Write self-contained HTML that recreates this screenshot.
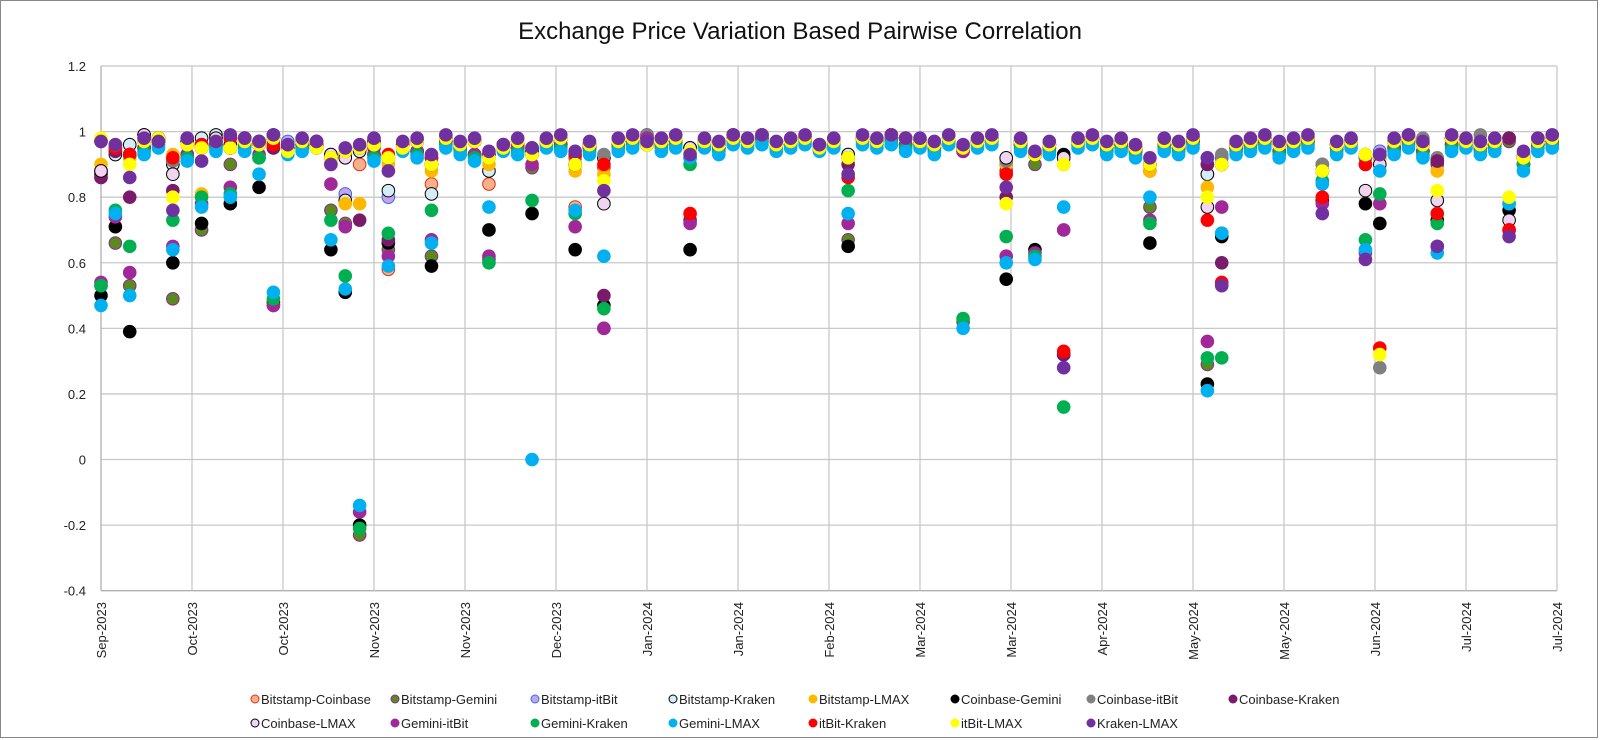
<!DOCTYPE html>
<html><head><meta charset="utf-8"><style>
html,body{margin:0;padding:0;background:#fff;}
svg{display:block;font-family:"Liberation Sans",sans-serif;}
</style></head><body>
<svg id="chart" width="1600" height="740" viewBox="0 0 1600 740">
<rect x="0.5" y="0.5" width="1597" height="737" fill="#fff" stroke="#888"/>
<text x="800" y="39" text-anchor="middle" font-size="24" fill="#111">Exchange Price Variation Based Pairwise Correlation</text>
<g id="grid"></g><g id="marks"></g><g id="legend"></g>
</svg>
<script>
const yTicks=[1.2,1,0.8,0.6,0.4,0.2,0,-0.2,-0.4];
const yTickLabels=["1.2","1","0.8","0.6","0.4","0.2","0","-0.2","-0.4"];
const xTickDays=[0,19,38,57,76,95,114,133,152,171,190,209,228,247,266,285,304];
const xTickLabels=["Sep-2023","Oct-2023","Oct-2023","Nov-2023","Nov-2023","Dec-2023","Jan-2024","Jan-2024","Feb-2024","Mar-2024","Mar-2024","Apr-2024","May-2024","May-2024","Jun-2024","Jul-2024","Jul-2024"];
const days=[0,3,6,9,12,15,18,21,24,27,30,33,36,39,42,45,48,51,54,57,60,63,66,69,72,75,78,81,84,87,90,93,96,99,102,105,108,111,114,117,120,123,126,129,132,135,138,141,144,147,150,153,156,159,162,165,168,171,174,177,180,183,186,189,192,195,198,201,204,207,210,213,216,219,222,225,228,231,234,237,240,243,246,249,252,255,258,261,264,267,270,273,276,279,282,285,288,291,294,297,300,303];
const seriesNames=["Bitstamp-Coinbase","Bitstamp-Gemini","Bitstamp-itBit","Bitstamp-Kraken","Bitstamp-LMAX","Coinbase-Gemini","Coinbase-itBit","Coinbase-Kraken","Coinbase-LMAX","Gemini-itBit","Gemini-Kraken","Gemini-LMAX","itBit-Kraken","itBit-LMAX","Kraken-LMAX"];
const s0=[.86,.95,.93,.97,.98,.9,.97,.96,.98,.95,.97,.96,.98,.94,.97,.95,.9,.93,.9,.96,.58,.95,.97,.84,.98,.96,.97,.84,.95,.96,.93,.97,.98,.77,.96,.89,.97,.98,.96,.97,.98,.95,.97,.96,.98,.97,.99,.96,.97,.98,.95,.97,.93,.98,.97,.99,.98,.97,.96,.98,.95,.97,.98,.9,.97,.93,.96,.9,.97,.98,.96,.97,.95,.88,.97,.96,.98,.87,.92,.96,.97,.98,.96,.97,.98,.88,.96,.97,.93,.94,.97,.98,.96,.91,.98,.97,.96,.97,.98,.92,.97,.98];
const s1=[.53,.66,.53,.95,.97,.49,.93,.70,.96,.9,.97,.92,.47,.96,.95,.97,.76,.72,-.23,.95,.64,.96,.94,.62,.97,.95,.93,.61,.96,.95,.89,.97,.96,.9,.95,.40,.96,.97,.98,.96,.97,.92,.97,.95,.98,.97,.98,.96,.97,.98,.96,.97,.67,.98,.97,.98,.96,.97,.95,.98,.42,.97,.98,.88,.96,.9,.95,.32,.97,.98,.95,.96,.94,.77,.96,.95,.97,.29,.9,.95,.96,.97,.94,.96,.97,.9,.95,.97,.92,.93,.95,.97,.94,.9,.96,.97,.95,.96,.97,.9,.96,.97];
const s2=[.88,.94,.92,.97,.98,.91,.96,.95,.97,.95,.98,.96,.95,.97,.96,.95,.93,.81,.95,.97,.80,.96,.97,.92,.98,.96,.97,.93,.95,.97,.95,.97,.98,.9,.96,.92,.97,.98,.96,.97,.98,.95,.97,.96,.98,.97,.99,.96,.97,.98,.95,.97,.92,.98,.97,.99,.98,.97,.96,.98,.95,.97,.98,.9,.97,.93,.96,.92,.97,.98,.96,.97,.95,.9,.97,.96,.98,.9,.92,.96,.97,.98,.96,.97,.98,.9,.96,.97,.92,.94,.97,.98,.96,.91,.98,.97,.96,.97,.98,.93,.97,.98];
const s3=[.87,.93,.96,.99,.98,.9,.97,.98,.99,.96,.98,.97,.99,.95,.97,.96,.92,.79,.94,.97,.82,.95,.97,.81,.98,.96,.97,.88,.95,.97,.94,.97,.98,.9,.96,.92,.97,.98,.99,.97,.98,.95,.97,.96,.99,.97,.99,.96,.97,.98,.95,.97,.93,.98,.97,.99,.98,.97,.96,.98,.95,.97,.98,.9,.97,.93,.96,.32,.97,.98,.96,.97,.95,.9,.97,.96,.98,.87,.69,.96,.97,.98,.96,.97,.98,.88,.96,.97,.93,.92,.97,.98,.96,.91,.98,.97,.96,.97,.98,.92,.97,.98];
const s4=[.9,.95,.92,.97,.98,.93,.96,.81,.97,.95,.97,.96,.98,.94,.97,.95,.92,.78,.78,.96,.9,.95,.97,.88,.98,.96,.97,.9,.95,.97,.93,.97,.98,.88,.96,.87,.97,.98,.96,.97,.98,.94,.97,.96,.98,.97,.99,.96,.97,.98,.95,.97,.92,.98,.97,.99,.98,.97,.96,.98,.95,.97,.98,.9,.97,.93,.96,.9,.97,.98,.96,.97,.95,.88,.97,.96,.98,.83,.9,.96,.97,.98,.96,.97,.98,.88,.96,.97,.93,.92,.97,.98,.96,.88,.98,.97,.96,.97,.98,.92,.97,.98];
const s5=[.50,.71,.39,.95,.97,.60,.93,.72,.96,.78,.96,.83,.48,.95,.96,.97,.64,.51,-.2,.93,.66,.96,.94,.59,.97,.95,.93,.70,.96,.95,.75,.97,.96,.64,.95,.47,.96,.97,.98,.96,.97,.64,.97,.95,.98,.97,.98,.96,.97,.98,.96,.97,.65,.98,.97,.98,.96,.97,.95,.98,.94,.97,.98,.55,.96,.64,.95,.93,.97,.98,.95,.96,.94,.66,.96,.95,.97,.23,.68,.95,.96,.97,.94,.96,.97,.79,.95,.97,.78,.72,.95,.97,.94,.73,.96,.97,.95,.96,.76,.9,.96,.97];
const s6=[.88,.95,.93,.97,.98,.91,.96,.95,.97,.95,.98,.96,.97,.94,.97,.96,.92,.94,.95,.97,.92,.96,.97,.92,.98,.96,.97,.93,.95,.97,.95,.97,.98,.92,.96,.93,.97,.98,.99,.98,.98,.95,.97,.96,.98,.97,.99,.96,.97,.98,.95,.97,.92,.98,.97,.99,.98,.97,.96,.98,.95,.97,.98,.91,.97,.93,.96,.92,.97,.98,.96,.97,.95,.9,.97,.96,.98,.92,.93,.96,.97,.98,.96,.97,.98,.9,.96,.97,.93,.28,.97,.99,.98,.92,.98,.97,.99,.97,.98,.93,.98,.99];
const s7=[.86,.94,.80,.97,.98,.82,.96,.95,.97,.95,.97,.96,.95,.94,.97,.95,.92,.94,.73,.96,.67,.95,.97,.9,.98,.96,.97,.92,.95,.97,.93,.97,.98,.9,.96,.50,.97,.98,.96,.97,.98,.73,.97,.96,.98,.97,.99,.96,.97,.98,.95,.97,.9,.98,.97,.99,.98,.97,.96,.98,.95,.97,.98,.80,.97,.93,.96,.32,.97,.98,.96,.97,.95,.9,.97,.96,.98,.9,.60,.96,.97,.98,.96,.97,.98,.88,.96,.97,.9,.93,.97,.98,.96,.91,.98,.97,.96,.97,.98,.92,.97,.98];
const s8=[.88,.96,.93,.99,.98,.87,.97,.96,.98,.95,.98,.96,.98,.95,.97,.96,.93,.92,.95,.97,.92,.96,.97,.9,.98,.96,.97,.93,.95,.97,.94,.97,.98,.9,.96,.78,.97,.98,.96,.97,.98,.95,.97,.96,.98,.97,.99,.96,.97,.98,.95,.97,.92,.98,.97,.99,.98,.97,.96,.98,.95,.97,.98,.92,.97,.93,.96,.92,.97,.98,.96,.97,.95,.9,.97,.96,.98,.77,.9,.96,.97,.98,.96,.97,.98,.88,.96,.97,.82,.9,.97,.98,.96,.79,.98,.97,.96,.97,.73,.92,.97,.98];
const s9=[.54,.74,.57,.95,.97,.65,.93,.78,.96,.83,.96,.93,.47,.95,.96,.97,.84,.71,-.16,.93,.62,.96,.94,.67,.97,.95,.93,.62,.96,.95,.9,.97,.96,.71,.95,.40,.96,.97,.98,.96,.97,.72,.97,.95,.98,.97,.98,.96,.97,.98,.96,.97,.72,.98,.97,.98,.96,.97,.95,.98,.94,.97,.98,.62,.96,.63,.95,.70,.97,.98,.95,.96,.94,.73,.96,.95,.97,.36,.77,.95,.96,.97,.94,.96,.97,.78,.95,.97,.63,.78,.95,.97,.94,.65,.96,.97,.95,.96,.70,.9,.96,.97];
const s10=[.53,.76,.65,.94,.96,.73,.92,.80,.95,.81,.95,.92,.49,.94,.95,.96,.73,.56,-.21,.92,.69,.95,.93,.76,.96,.94,.92,.60,.95,.94,.79,.96,.95,.75,.94,.46,.95,.96,.97,.95,.96,.9,.96,.94,.97,.96,.97,.95,.96,.97,.95,.96,.82,.97,.96,.97,.95,.96,.94,.97,.43,.96,.97,.68,.95,.62,.94,.16,.96,.97,.94,.95,.93,.72,.95,.94,.96,.31,.31,.94,.95,.96,.93,.95,.96,.85,.94,.96,.67,.81,.94,.96,.93,.72,.95,.96,.94,.95,.78,.9,.95,.96];
const s11=[.47,.75,.50,.93,.95,.64,.91,.77,.94,.80,.94,.87,.51,.93,.94,.95,.67,.52,-.14,.91,.59,.94,.92,.66,.95,.93,.91,.77,.94,.93,0,.95,.94,.76,.93,.62,.94,.95,.96,.94,.95,.92,.95,.93,.96,.95,.96,.94,.95,.96,.94,.95,.75,.96,.95,.96,.94,.95,.93,.96,.40,.95,.96,.60,.94,.61,.93,.77,.95,.96,.93,.94,.92,.80,.94,.93,.95,.21,.69,.93,.94,.95,.92,.94,.95,.84,.93,.95,.64,.88,.93,.95,.92,.63,.94,.95,.93,.94,.78,.88,.94,.95];
const s12=[.97,.95,.93,.98,.97,.92,.98,.96,.97,.98,.98,.97,.96,.95,.97,.96,.92,.94,.95,.97,.93,.96,.97,.92,.98,.96,.97,.93,.95,.97,.95,.97,.98,.93,.96,.9,.97,.98,.96,.97,.98,.75,.97,.96,.98,.97,.99,.96,.97,.98,.95,.97,.86,.98,.97,.99,.98,.97,.96,.98,.95,.97,.98,.87,.97,.93,.96,.33,.97,.98,.96,.97,.95,.9,.97,.96,.98,.73,.54,.96,.97,.98,.96,.97,.98,.80,.96,.97,.9,.34,.97,.98,.96,.75,.98,.97,.96,.97,.70,.92,.97,.98];
const s13=[.98,.96,.90,.97,.98,.80,.96,.95,.97,.95,.97,.96,.98,.94,.97,.95,.92,.94,.95,.96,.92,.95,.97,.9,.98,.96,.97,.92,.95,.97,.93,.97,.98,.9,.96,.85,.97,.98,.96,.97,.98,.94,.97,.96,.98,.97,.99,.96,.97,.98,.95,.97,.92,.98,.97,.99,.98,.97,.96,.98,.95,.97,.98,.78,.97,.93,.96,.9,.97,.98,.96,.97,.95,.9,.97,.96,.98,.80,.9,.96,.97,.98,.96,.97,.98,.88,.96,.97,.93,.32,.97,.98,.96,.82,.98,.97,.96,.97,.80,.92,.97,.98];
const s14=[.97,.96,.86,.98,.97,.76,.98,.91,.97,.99,.98,.97,.99,.96,.98,.97,.90,.95,.96,.98,.88,.97,.98,.93,.99,.97,.98,.94,.96,.98,.95,.98,.99,.94,.97,.82,.98,.99,.97,.98,.99,.93,.98,.97,.99,.98,.99,.97,.98,.99,.96,.98,.87,.99,.98,.99,.98,.98,.97,.99,.96,.98,.99,.83,.98,.94,.97,.28,.98,.99,.97,.98,.96,.92,.98,.97,.99,.92,.53,.97,.98,.99,.97,.98,.99,.75,.97,.98,.61,.93,.98,.99,.97,.65,.99,.98,.97,.98,.68,.94,.98,.99];
const seriesValues=[s0,s1,s2,s3,s4,s5,s6,s7,s8,s9,s10,s11,s12,s13,s14];
const fills=["#f8b08c","#5a8a1e","#c9a0f0","#d4ecf7","#ffb800","#000000","#808080","#7a1a6a","#f0d4f0","#a02898","#00b050","#00b0f0","#ff0000","#ffff00","#7030a0"];
const strokes=["#e03010","#8a2a90","#3070e0","#000000","#ffb800","#000000","#808080","#7a1a6a","#000000","#a02898","#00b050","#00b0f0","#ff0000","#ffff00","#7030a0"];

const NS="http://www.w3.org/2000/svg";
const X0=101,X1=1557,Y0=590.7,Y1=66,VMIN=-0.4,VMAX=1.2,DMAX=304;
function xScale(d){return X0+(d/DMAX)*(X1-X0);}
function yScale(v){return Y0-(v-VMIN)/(VMAX-VMIN)*(Y0-Y1);}
function mk(tag,attrs,parent){const e=document.createElementNS(NS,tag);for(const k in attrs)e.setAttribute(k,attrs[k]);parent.appendChild(e);return e;}
const grid=document.getElementById('grid'),marks=document.getElementById('marks'),legend=document.getElementById('legend');
yTicks.forEach((v,i)=>{
  const y=yScale(v);
  const l=mk('line',{x1:X0,x2:X1,y1:y,y2:y,stroke:v===-0.4?'#b0b0b0':'#c8c8c8','stroke-width':1.3},grid);
  
  
  const t=mk('text',{x:86,y:y+5,'text-anchor':'end','font-size':13,fill:'#222'},grid);
  t.textContent=yTickLabels[i];
  
  
});
xTickDays.forEach((d,i)=>{
  const x=xScale(d);
  const l=mk('line',{x1:x,x2:x,y1:Y1,y2:Y0,stroke:i===0?'#b0b0b0':'#c8c8c8','stroke-width':1.3},grid);
  
  
  const t=mk('text',{x:0,y:0,'text-anchor':'end','font-size':13,fill:'#222',transform:`translate(${x+5},602) rotate(-90)`},grid);
  t.textContent=xTickLabels[i];
  
  
});
seriesValues.forEach((arr,s)=>{
  const g=mk('g',{},marks);
  
  
  arr.forEach((v,i)=>{
    const c=mk('circle',{cx:xScale(days[i]),cy:yScale(v),r:6.3,fill:fills[s],stroke:strokes[s],'stroke-width':1},g);
    
    
  });
});
const legX=[255,395,535,673,813,955,1091,1233];
seriesNames.forEach((n,i)=>{
  const col=i%8,row=Math.floor(i/8);
  const x=legX[col],y=row?723:699;
  const g=mk('g',{},legend);
  
  
  mk('circle',{cx:x,cy:y,r:4,fill:fills[i],stroke:strokes[i],'stroke-width':1},g);
  const t=mk('text',{x:x+6,y:y+5,'font-size':13,fill:'#222'},g);
  t.textContent=n;
});
</script>
</body></html>
